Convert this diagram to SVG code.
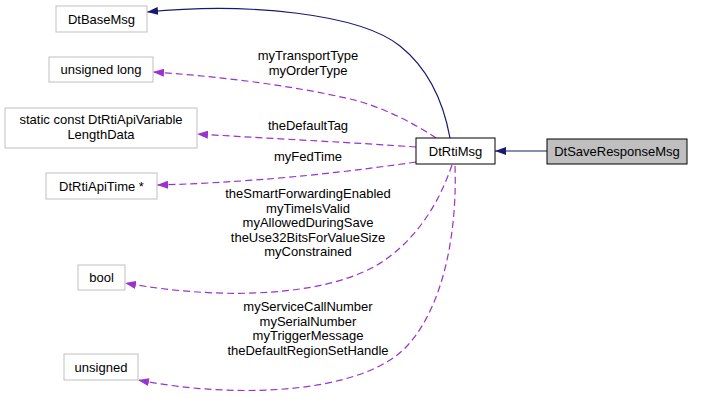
<svg xmlns="http://www.w3.org/2000/svg" width="704" height="402" viewBox="0 0 704 402">
<style>
text{font-family:"Liberation Sans",Arial,sans-serif;font-size:13px;fill:#000;text-anchor:middle}
.ext{fill:#fff;stroke:#bfbfbf;stroke-width:1}
.main{fill:#fff;stroke:#000;stroke-width:1}
.cur{fill:#bfbfbf;stroke:#000;stroke-width:1}
.inh{fill:none;stroke:#191970;stroke-width:1.2}
.use{fill:none;stroke:#9a32cd;stroke-width:1.2;stroke-dasharray:7,4}
</style>
<defs>
<marker id="an" viewBox="0 0 11 8" refX="11" refY="4" markerWidth="11" markerHeight="8" markerUnits="userSpaceOnUse" orient="auto"><path d="M0,0 L11,4 L0,8 z" fill="#191970"/></marker>
<marker id="ap" viewBox="0 0 11 8" refX="11" refY="4" markerWidth="11" markerHeight="8" markerUnits="userSpaceOnUse" orient="auto"><path d="M0,0 L11,4 L0,8 z" fill="#9a32cd"/></marker>
</defs>
<g id="edges">
<path class="inh" d="M547,151 L495,151" marker-end="url(#an)"/>
<path class="inh" d="M450,138 C444,105 430,70 400,46 C360,14 250,2 147,12" marker-end="url(#an)"/>
<path class="use" d="M436,138 C412,122 380,106 350,99 C290,85 215,76 153,72" marker-end="url(#ap)"/>
<path class="use" d="M416,147 C360,143 280,139 197,134" marker-end="url(#ap)"/>
<path class="use" d="M416,162 C360,170 270,182 157,185" marker-end="url(#ap)"/>
<path class="use" d="M452,165 C440,200 420,235 385,260 C335,295 230,302 125,283" marker-end="url(#ap)"/>
<path class="use" d="M455,166 C457,220 448,300 408,345 C365,393 240,400 138,380" marker-end="url(#ap)"/>
<text x="308" y="60">myTransportType</text>
<text x="308" y="74.5">myOrderType</text>
<text x="308" y="130">theDefaultTag</text>
<text x="308" y="161">myFedTime</text>
<text x="308" y="198">theSmartForwardingEnabled</text>
<text x="308" y="212.5">myTimeIsValid</text>
<text x="308" y="227">myAllowedDuringSave</text>
<text x="308" y="241.5">theUse32BitsForValueSize</text>
<text x="308" y="256">myConstrained</text>
<text x="308" y="311">myServiceCallNumber</text>
<text x="308" y="325.5">mySerialNumber</text>
<text x="308" y="340">myTriggerMessage</text>
<text x="308" y="354.5">theDefaultRegionSetHandle</text>
</g>
<g id="DtSaveResponseMsg"><rect class="cur" x="547" y="139" width="140" height="25"/><text x="617" y="156">DtSaveResponseMsg</text></g>
<g id="DtRtiMsg"><rect class="main" x="416" y="138" width="79" height="26"/><text x="455.5" y="156">DtRtiMsg</text></g>
<g id="DtBaseMsg"><rect class="ext" x="56" y="6" width="91" height="26"/><text x="101.5" y="24">DtBaseMsg</text></g>
<g id="unsignedLong"><rect class="ext" x="49" y="57" width="104" height="25"/><text x="101" y="74">unsigned long</text></g>
<g id="LengthData"><rect class="ext" x="5" y="108" width="192" height="40"/><text x="101" y="124">static const DtRtiApiVariable</text><text x="101" y="138.5">LengthData</text></g>
<g id="DtRtiApiTime"><rect class="ext" x="46" y="173" width="111" height="26"/><text x="101.5" y="191">DtRtiApiTime *</text></g>
<g id="bool"><rect class="ext" x="78" y="265" width="47" height="25"/><text x="101.5" y="282">bool</text></g>
<g id="unsigned"><rect class="ext" x="64" y="354" width="74" height="26"/><text x="101" y="372">unsigned</text></g>
</svg>
